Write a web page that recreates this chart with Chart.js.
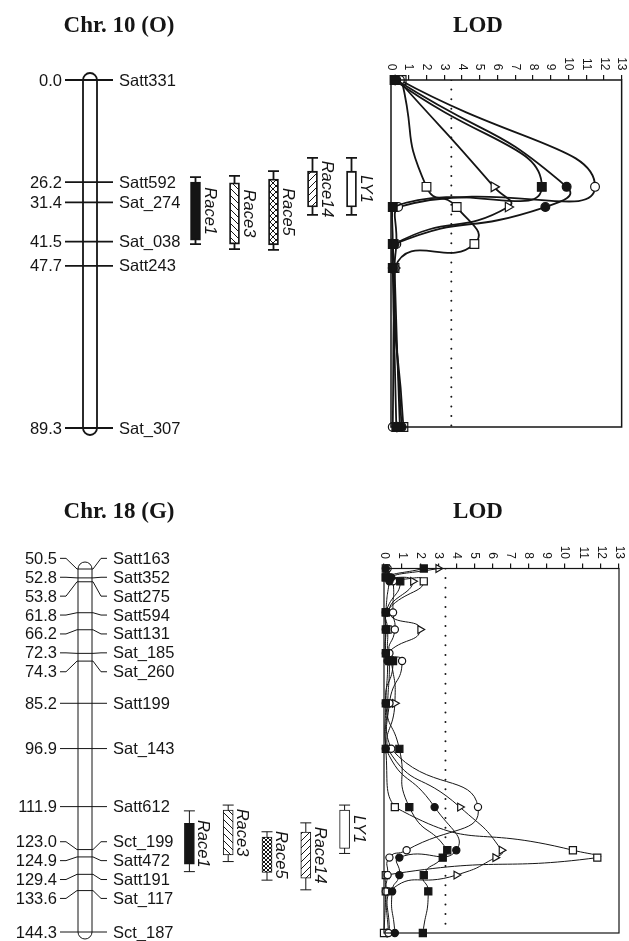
<!DOCTYPE html>
<html>
<head>
<meta charset="utf-8">
<script src="https://cdn.jsdelivr.net/npm/chart.js@4.4.1/dist/chart.umd.min.js"></script>
<style>
    html, body { margin: 0; padding: 0; background: #fff; }
    #page { position: relative; width: 629px; height: 941px; overflow: hidden; }
    #page canvas { position: absolute; }
</style>
</head>
<body>
<div id="page">
    <canvas id="map10" width="380" height="460" style="left:0;top:0"></canvas>
    <canvas id="lod10" width="249" height="460" style="left:380px;top:0"></canvas>
    <canvas id="map18" width="380" height="471" style="left:0;top:470px"></canvas>
    <canvas id="lod18" width="259" height="471" style="left:370px;top:470px"></canvas>
</div>
<script>
// ---- Chr. 10 (O) ----
const markers_10 = ['Satt331', 'Satt592', 'Sat_274', 'Sat_038', 'Satt243', 'Sat_307']
const positions_10 = [0.0, 26.2, 31.4, 41.5, 47.7, 89.3]
const traits_10 = ['Race1', 'Race3', 'Race5', 'Race14', 'LY1']
const qtl_start_10 = [26.2, 26.4, 25.4, 23.4, 23.4]
const qtl_end_10 = [41.1, 42.1, 42.3, 32.6, 32.6]
const ci_start_10 = [24.9, 24.6, 23.4, 20.0, 20.0]
const ci_end_10 = [42.1, 43.4, 43.6, 34.6, 34.6]
const lod_positions_10 = [0.0, 27.5, 32.7, 42.2, 48.4, 89.3]
const lod_filled_square_10 = [0.2, 8.5, 0.1, 0.1, 0.1, 0.3]
const lod_filled_circle_10 = [0.3, 9.9, 8.7, 0.2, 0.1, 0.6]
const lod_open_circle_10 = [0.5, 11.5, 0.4, 0.3, 0.2, 0.1]
const lod_triangle_10 = [0.4, 5.8, 6.6, 0.2, 0.2, 0.5]
const lod_open_square_10 = [0.6, 2.0, 3.7, 4.7, 0.2, 0.7]

// ---- Chr. 18 (G) ----
const markers_18 = ['Satt163', 'Satt352', 'Satt275', 'Satt594', 'Satt131', 'Sat_185', 'Sat_260', 'Satt199',
    'Sat_143', 'Satt612', 'Sct_199', 'Satt472', 'Satt191', 'Sat_117', 'Sct_187']
const positions_18 = [50.5, 52.8, 53.8, 61.8, 66.2, 72.3, 74.3, 85.2, 96.9, 111.9, 123.0, 124.9, 129.4, 133.6, 144.3]
const traits_18 = ['Race1', 'Race3', 'Race5', 'Race14', 'LY1']
const qtl_start_18 = [116.2, 112.8, 119.8, 118.5, 112.8]
const qtl_end_18 = [126.8, 124.4, 128.9, 130.4, 122.7]
const ci_start_18 = [113.0, 111.5, 118.4, 116.1, 111.5]
const ci_end_18 = [128.7, 126.1, 130.9, 133.4, 124.0]
const lod_filled_square_18 = [2.2, 0.1, 0.9, 0.1, 0.1, 0.1, 0.5, 0.1, 0.85, 1.4, 3.5, 3.25, 2.2, 2.45, 2.15]
const lod_filled_circle_18 = [0.1, 0.4, 0.3, 0.1, 0.1, 0.1, 0.2, 0.1, 0.1, 2.8, 4.0, 0.85, 0.85, 0.45, 0.6]
const lod_open_circle_18 = [0.2, 0.3, 0.5, 0.5, 0.6, 0.3, 1.0, 0.3, 0.4, 5.2, 1.25, 0.3, 0.2, 0.1, 0.25]
const lod_triangle_18 = [3.0, 0.3, 1.6, 0.3, 2.0, 0.2, 0.4, 0.6, 0.2, 4.2, 6.5, 6.15, 4.0, 0.3, 0.3]
const lod_open_square_18 = [0.1, 0.1, 2.2, 0.1, 0.2, 0.2, 0.3, 0.2, 0.1, 0.6, 10.45, 11.8, 0.1, 0.1, 0.0]

const lod_ticks = [0, 1, 2, 3, 4, 5, 6, 7, 8, 9, 10, 11, 12, 13]
const lod_threshold = 3.4

const INK = '#151515'
const SANS = '"Liberation Sans", Arial, sans-serif'
const SERIF = '"Liberation Serif", "Times New Roman", serif'

function hatch(canvas_id, kind, size) {
    const c = document.createElement('canvas')
    c.width = size; c.height = size
    const g = c.getContext('2d')
    g.fillStyle = '#fff'
    g.fillRect(0, 0, size, size)
    g.strokeStyle = INK
    g.lineWidth = 1
    const lines = []
    if (kind === 'slash' || kind === 'cross')
        lines.push([0, size, size, 0], [-1, 1, 1, -1], [size - 1, size + 1, size + 1, size - 1])
    if (kind === 'backslash' || kind === 'cross')
        lines.push([0, 0, size, size], [-1, size - 1, 1, size + 1], [size - 1, -1, size + 1, 1])
    lines.forEach(l => { g.beginPath(); g.moveTo(l[0], l[1]); g.lineTo(l[2], l[3]); g.stroke() })
    return document.getElementById(canvas_id).getContext('2d').createPattern(c, 'repeat')
}

// labels that would overlap are pushed apart, each group centred on its markers
function spread_labels(ys, gap) {
    let groups = ys.map((y, i) => ({ first: i, last: i, centre: y }))
    let merged = true
    while (merged) {
        merged = false
        for (let i = 0; i < groups.length - 1; i++) {
            const a = groups[i], b = groups[i + 1]
            const a_end = a.centre + (a.last - a.first) * gap / 2
            const b_start = b.centre - (b.last - b.first) * gap / 2
            if (b_start - a_end < gap - 0.01) {
                groups.splice(i, 2, { first: a.first, last: b.last, centre: (ys[a.first] + ys[b.last]) / 2 })
                merged = true
                break
            }
        }
    }
    const out = []
    groups.forEach(g => {
        const n = g.last - g.first
        for (let k = 0; k <= n; k++) out.push(g.centre + (k - n / 2) * gap)
    })
    return out
}

const chromosome_plugin = {
    id: 'chromosome',
    beforeDatasetsDraw(chart, args, o) {
        const { ctx } = chart
        const y = chart.scales.y
        const ys = o.positions.map(p => y.getPixelForValue(p))
        const label_ys = spread_labels(ys, 18.9)
        const half = o.width / 2
        const top = ys[0], bottom = ys[ys.length - 1]
        ctx.save()
        ctx.strokeStyle = INK
        ctx.lineWidth = o.line
        // chromosome body
        ctx.beginPath()
        ctx.moveTo(o.cx - half, top)
        ctx.arc(o.cx, top, half, Math.PI, 0)
        ctx.lineTo(o.cx + half, bottom)
        ctx.arc(o.cx, bottom, half, 0, Math.PI)
        ctx.closePath()
        ctx.fillStyle = '#fff'
        ctx.fill()
        ctx.stroke()
        // marker lines and labels
        ctx.font = '16.5px ' + SANS
        ctx.fillStyle = INK
        ctx.textBaseline = 'middle'
        ys.forEach((my, i) => {
            const ly = label_ys[i]
            ctx.beginPath()
            ctx.moveTo(o.left_end, ly)
            ctx.lineTo(o.left_end + 6, ly)
            ctx.lineTo(o.cx - half - 1, my)
            ctx.lineTo(o.cx + half + 1, my)
            ctx.lineTo(o.right_end - 6, ly)
            ctx.lineTo(o.right_end, ly)
            ctx.stroke()
            ctx.textAlign = 'right'
            ctx.fillText(o.positions[i].toFixed(1), o.left_end - 3, ly + 1)
            ctx.textAlign = 'left'
            ctx.fillText(o.markers[i], o.right_end + 6, ly + 1)
        })
        // confidence whiskers behind the QTL bars
        const meta = chart.getDatasetMeta(0)
        meta.data.forEach((bar, i) => {
            const lo = y.getPixelForValue(o.ci_start[i]), hi = y.getPixelForValue(o.ci_end[i])
            ctx.beginPath()
            ctx.moveTo(bar.x, lo); ctx.lineTo(bar.x, hi)
            ctx.moveTo(bar.x - 5.5, lo); ctx.lineTo(bar.x + 5.5, lo)
            ctx.moveTo(bar.x - 5.5, hi); ctx.lineTo(bar.x + 5.5, hi)
            ctx.stroke()
        })
        ctx.font = 'bold 23px ' + SERIF
        ctx.textAlign = 'center'
        ctx.textBaseline = 'alphabetic'
        ctx.fillText(o.title, o.title_x, o.title_y)
        ctx.restore()
    },
    afterDatasetsDraw(chart, args, o) {
        const { ctx } = chart
        const y = chart.scales.y
        const meta = chart.getDatasetMeta(0)
        ctx.save()
        ctx.fillStyle = INK
        ctx.font = 'italic 16.5px ' + SANS
        ctx.textAlign = 'center'
        ctx.textBaseline = 'alphabetic'
        meta.data.forEach((bar, i) => {
            const mid = (y.getPixelForValue(o.qtl_start[i]) + y.getPixelForValue(o.qtl_end[i])) / 2
            ctx.save()
            ctx.translate(bar.x + 9, mid)
            ctx.rotate(Math.PI / 2)
            ctx.fillText(chart.data.labels[i], 0, 0)
            ctx.restore()
        })
        ctx.restore()
    }
}

const lod_frame_plugin = {
    id: 'lod_frame',
    afterDraw(chart, args, o) {
        const { ctx, chartArea: a } = chart
        const x = chart.scales.x
        ctx.save()
        ctx.strokeStyle = INK
        ctx.lineWidth = o.frame
        ctx.strokeRect(a.left, a.top, a.right - a.left, a.bottom - a.top)
        ctx.fillStyle = INK
        ctx.font = '12px ' + SANS
        ctx.textAlign = 'right'
        ctx.textBaseline = 'middle'
        x.ticks.forEach(t => {
            ctx.save()
            ctx.translate(x.getPixelForValue(t.value), a.top - 9.5)
            ctx.rotate(Math.PI / 2)
            ctx.fillText(String(t.value), 0, 0)
            ctx.restore()
        })
        ctx.font = 'bold 23px ' + SERIF
        ctx.textAlign = 'center'
        ctx.textBaseline = 'alphabetic'
        ctx.fillText(o.title, o.title_x, o.title_y)
        ctx.restore()
    }
}

function make_map_chart(id, c) {
    return new Chart(document.getElementById(id), {
        type: 'bar',
        data: {
            labels: c.traits,
            datasets: [{
                data: c.traits.map((t, i) => [c.qtl_start[i], c.qtl_end[i]]),
                backgroundColor: c.fills,
                borderColor: INK,
                borderWidth: c.line,
                borderSkipped: false,
                barThickness: 10,
            }]
        },
        options: {
            responsive: false,
            animation: false,
            devicePixelRatio: 1,
            layout: { padding: c.padding },
            scales: {
                x: { display: false },
                y: { display: false, reverse: true, min: c.positions[0], max: c.positions[c.positions.length - 1] }
            },
            plugins: {
                legend: { display: false },
                tooltip: { enabled: false },
                chromosome: {
                    positions: c.positions, markers: c.markers, ci_start: c.ci_start, ci_end: c.ci_end,
                    qtl_start: c.qtl_start, qtl_end: c.qtl_end,
                    cx: c.cx, width: 14, line: c.line, left_end: c.left_end, right_end: c.right_end,
                    title: c.title, title_x: 119, title_y: c.title_y
                }
            }
        },
        plugins: [chromosome_plugin]
    })
}

function lod_series(values, positions, shape, fill, radius, line) {
    return {
        data: values.map((v, i) => ({ x: v, y: positions[i] })),
        showLine: true,
        borderColor: INK,
        borderWidth: line,
        tension: 0.6,
        pointStyle: shape,
        pointRotation: shape === 'triangle' ? 90 : 0,
        pointRadius: shape === 'rect' ? radius * 1.4 : (shape === 'triangle' ? radius * 1.25 : radius),
        pointBackgroundColor: fill,
        pointBorderColor: INK,
        pointBorderWidth: 1.2,
        clip: 10,
    }
}

function make_lod_chart(id, c) {
    const p = c.positions
    const lo = p[0], hi = p[p.length - 1]
    return new Chart(document.getElementById(id), {
        type: 'scatter',
        data: {
            datasets: [
                lod_series(c.filled_square, p, 'rect', INK, c.radius, c.line),
                lod_series(c.filled_circle, p, 'circle', INK, c.radius, c.line),
                lod_series(c.open_circle, p, 'circle', '#fff', c.radius, c.line),
                lod_series(c.triangle, p, 'triangle', '#fff', c.radius, c.line),
                lod_series(c.open_square, p, 'rect', '#fff', c.radius, c.line),
                {
                    data: [{ x: lod_threshold, y: lo }, { x: lod_threshold, y: hi }],
                    showLine: true, borderColor: INK, borderWidth: 2,
                    borderDash: [0, 9.6], borderCapStyle: 'round', pointRadius: 0,
                }
            ]
        },
        options: {
            responsive: false,
            animation: false,
            devicePixelRatio: 1,
            layout: { padding: c.padding },
            scales: {
                x: {
                    type: 'linear', position: 'top',
                    min: lod_ticks[0], max: lod_ticks[lod_ticks.length - 1],
                    afterBuildTicks: s => { s.ticks = lod_ticks.map(v => ({ value: v })) },
                    grid: { drawOnChartArea: false, drawTicks: true, tickLength: 5, color: INK, lineWidth: 1.2 },
                    border: { display: false },
                    ticks: { display: false },
                },
                y: { type: 'linear', display: false, reverse: true, min: lo, max: hi }
            },
            plugins: {
                legend: { display: false },
                tooltip: { enabled: false },
                lod_frame: { frame: c.frame, title: 'LOD', title_x: c.title_x, title_y: c.title_y }
            }
        },
        plugins: [lod_frame_plugin]
    })
}

make_map_chart('map10', {
    title: 'Chr. 10 (O)', title_y: 31.5,
    markers: markers_10, positions: positions_10, traits: traits_10,
    qtl_start: qtl_start_10, qtl_end: qtl_end_10, ci_start: ci_start_10, ci_end: ci_end_10,
    fills: [INK, hatch('map10', 'backslash', 7), hatch('map10', 'cross', 6), hatch('map10', 'slash', 7), '#fff'],
    cx: 90, left_end: 65, right_end: 113, line: 1.8,
    padding: { left: 176, right: 9, top: 80, bottom: 32 },
})

make_lod_chart('lod10', {
    positions: lod_positions_10,
    filled_square: lod_filled_square_10, filled_circle: lod_filled_circle_10, open_circle: lod_open_circle_10,
    triangle: lod_triangle_10, open_square: lod_open_square_10,
    radius: 4.4, line: 1.8, frame: 1.5, title_x: 98, title_y: 31.5,
    padding: { left: 11, right: 2, top: 75, bottom: 33 },
})

make_map_chart('map18', {
    title: 'Chr. 18 (G)', title_y: 48,
    markers: markers_18, positions: positions_18, traits: traits_18,
    qtl_start: qtl_start_18, qtl_end: qtl_end_18, ci_start: ci_start_18, ci_end: ci_end_18,
    fills: [INK, hatch('map18', 'backslash', 7), hatch('map18', 'cross', 4), hatch('map18', 'slash', 7), '#fff'],
    cx: 85, left_end: 60, right_end: 107, line: 1,
    padding: { left: 170, right: 16, top: 99, bottom: 9 },
})

make_lod_chart('lod18', {
    positions: positions_18,
    filled_square: lod_filled_square_18, filled_circle: lod_filled_circle_18, open_circle: lod_open_circle_18,
    triangle: lod_triangle_18, open_square: lod_open_square_18,
    radius: 3.6, line: 1, frame: 1.2, title_x: 108, title_y: 48,
    padding: { left: 14, right: 10, top: 93.5, bottom: 8 },
})
</script>
</body>
</html>
